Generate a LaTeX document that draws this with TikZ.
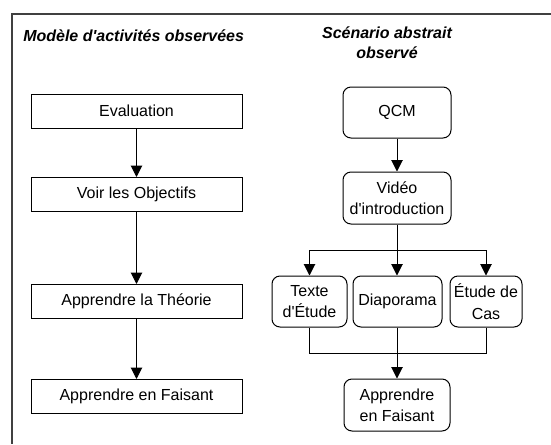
\documentclass[tikz,border=0pt]{standalone}
\usepackage{fontspec}
\setmainfont{Liberation Sans}
\usetikzlibrary{arrows.meta}

\tikzset{
  etape/.style={draw, line width=0.75pt, minimum width=158.25pt, minimum height=25.5pt, inner sep=1pt, font=\fontsize{12}{16}\selectfont},
  activite/.style={draw, line width=0.75pt, rounded corners=6pt, minimum height=38.25pt, inner sep=1pt, align=center, font=\fontsize{12}{16}\selectfont},
  titre/.style={inner sep=0.75pt, align=center, font=\fontsize{12}{15}\selectfont\bfseries\itshape},
  lien/.style={line width=0.75pt},
  fleche/.style={line width=0.75pt, -{Triangle[length=8.5pt,width=8.5pt]}}
}

\begin{document}
\begin{tikzpicture}[x=0.75pt,y=0.75pt,yscale=-1,xscale=1]
            \useasboundingbox (0,0) rectangle (551,444);
            
            %Frame
            \draw [color={rgb, 255:red, 64; green, 64; blue, 64 }, line width=1.1pt]   (551,14) -- (12,14) -- (12,444) ;
            
            % Titles
            \node [titre, anchor=west] (titreModele) at (22,36) {Modèle d\textquotesingle activités observées};
            \node [titre] (titreScenario) at (387,43) {Scénario abstrait\\observé};
            
            % Left column
            \node [etape] (evaluation) at (136.5,111) {Evaluation};
            \node [etape] (objectifs) at (136.5,194.5) {Voir les Objectifs};
            \node [etape] (theorie) at (136.5,301.5) {Apprendre la Théorie};
            \node [etape] (faisantG) at (136.5,396.5) {Apprendre en Faisant};
            
            \draw [fleche] (evaluation) -- (objectifs);
            \draw [fleche] (objectifs) -- (theorie);
            \draw [fleche] (theorie) -- (faisantG);
            
            % Right column
            \node [activite, minimum width=81pt] (qcm) at (397,112.5) {QCM};
            \node [activite, minimum width=81pt, minimum height=39pt] (video) at (397,198) {Vidéo\\d\textquotesingle introduction};
            \node [activite, minimum width=56.25pt] (texte) at (309.5,301.5) {Texte\\d\textquotesingle Étude};
            \node [activite, minimum width=66.75pt] (diapo) at (397.5,301.5) {Diaporama};
            \node [activite, minimum width=54pt] (cas) at (486,301.5) {Étude de\\Cas};
            \node [activite, minimum width=79.5pt, minimum height=39pt] (faisantD) at (397,405) {Apprendre\\en Faisant};
            
            \coordinate (split) at (397,250);
            \coordinate (merge) at (397,353);
            
            \draw [fleche] (qcm) -- (video);
            \draw [lien] (video.south) -- (split);
            \draw [fleche] (split) -| (texte.north);
            \draw [fleche] (split) -- (split |- diapo.north);
            \draw [fleche] (split) -| (cas.north);
            
            \draw [lien] (texte.south) |- (merge);
            \draw [lien] (cas.south) |- (merge);
            \draw [fleche] (diapo.south -| faisantD) -- (faisantD.north);
            
\end{tikzpicture}
\end{document}
